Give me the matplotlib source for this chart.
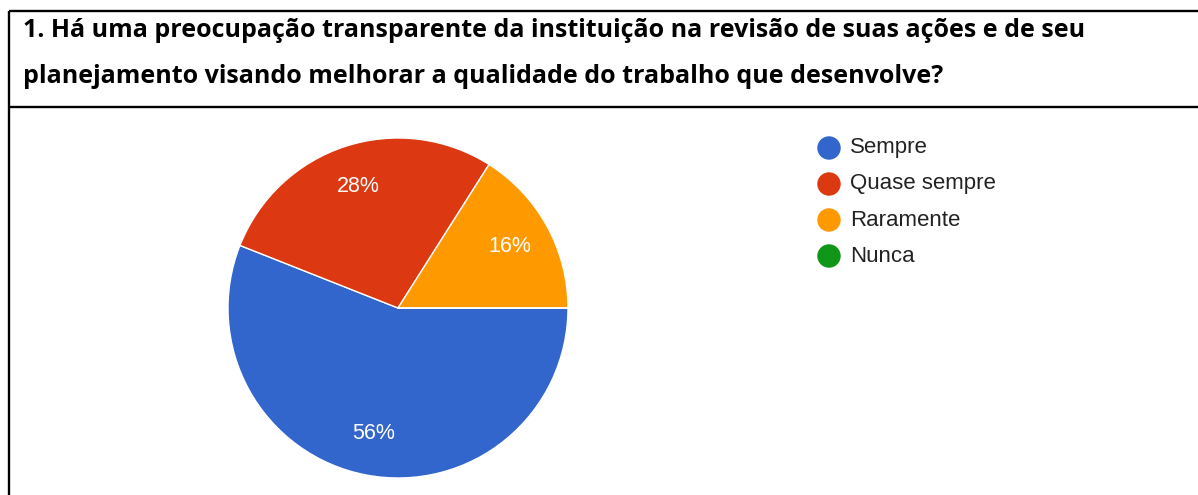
import matplotlib.pyplot as plt
from matplotlib.lines import Line2D

# survey answers for question 1
categories = ["Sempre", "Quase sempre", "Raramente", "Nunca"]
shares = [56, 28, 16, 0]
colors = ["#3366CC", "#DC3912", "#FF9900", "#109618"]

title_lines = [
    "1. Há uma preocupação transparente da instituição na revisão de suas ações e de seu",
    "planejamento visando melhorar a qualidade do trabalho que desenvolve?",
]

W, H = 1198, 495
fig = plt.figure(figsize=(W / 100, H / 100), dpi=100)

# overlay axes in pixel units for the table frame, title and legend
frame = fig.add_axes([0, 0, 1, 1])
frame.set_xlim(0, W)
frame.set_ylim(H, 0)
frame.axis("off")

border = dict(color="black", linewidth=1.7, solid_capstyle="butt")
frame.add_line(Line2D([9, W], [11, 11], **border))
frame.add_line(Line2D([9, W], [107, 107], **border))
frame.add_line(Line2D([9, 9], [11, H], **border))

for text, baseline in zip(title_lines, [37, 83]):
    frame.text(23, baseline, text, fontsize=18, fontweight="bold",
               family="Open Sans", color="black", va="baseline", ha="left")

# pie centred at (398, 308) px with a 170 px radius
cx, cy, r = 398, 308, 170
pie_ax = fig.add_axes([(cx - r) / W, (H - cy - r) / H, 2 * r / W, 2 * r / H])


def pct_label(p):
    return f"{p:.0f}%" if p > 0.5 else ""


wedges, _, autotexts = pie_ax.pie(
    shares,
    colors=colors,
    startangle=0,
    counterclock=False,
    autopct=pct_label,
    pctdistance=0.75,
    radius=1,
    wedgeprops=dict(edgecolor="white", linewidth=1),
    textprops=dict(color="white", fontsize=15.5, family="Liberation Sans"),
)
pie_ax.set_xlim(-1, 1)
pie_ax.set_ylim(-1, 1)
pie_ax.set_aspect("equal")
pie_ax.axis("off")

# legend: coloured dots with labels
for i, (name, col) in enumerate(zip(categories, colors)):
    y = 148 + 36 * i
    frame.scatter([829], [y], s=285, color=col, edgecolors="none")
    frame.text(850, y, name, fontsize=16, family="Liberation Sans",
               color="#222222", va="center", ha="left")

fig.savefig("out.png", dpi=100)
